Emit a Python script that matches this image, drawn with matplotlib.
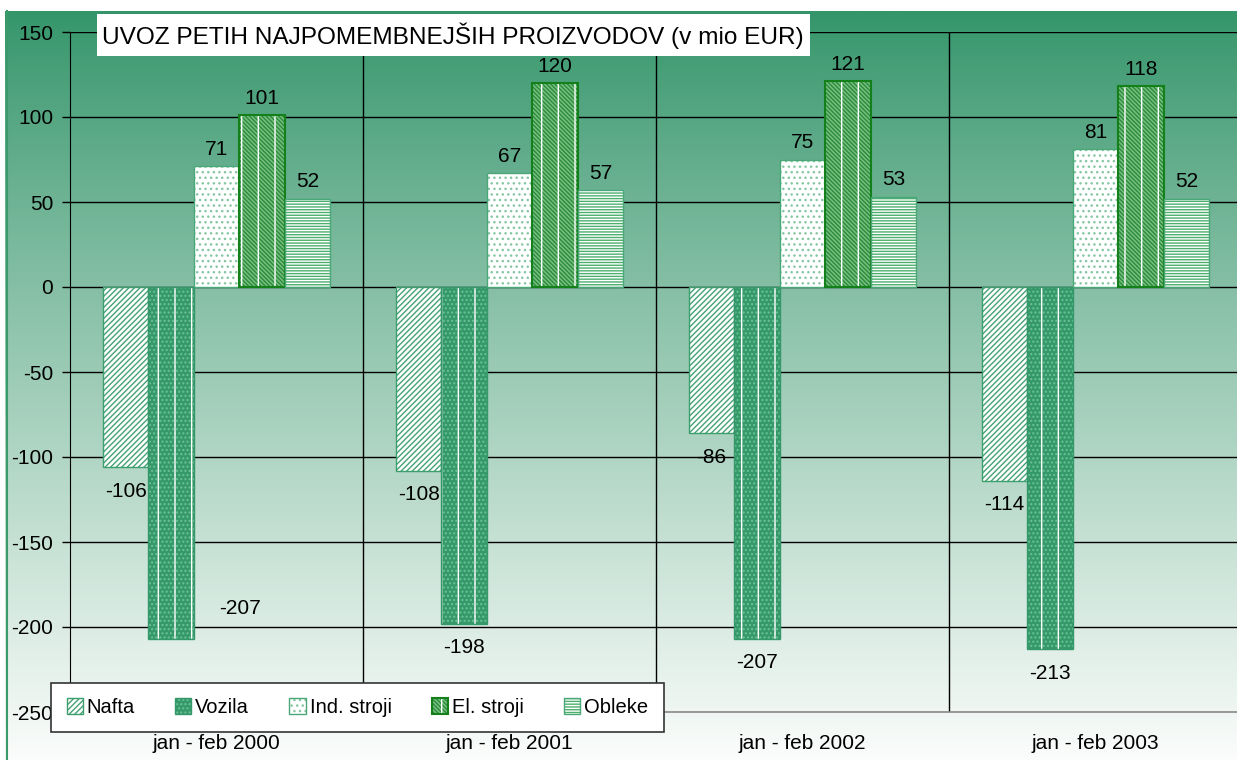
import numpy as np
import matplotlib
matplotlib.use("Agg")
import matplotlib.pyplot as plt
from matplotlib.patches import Rectangle, Patch
from matplotlib.lines import Line2D
from matplotlib.colors import to_rgb

plt.rcParams['font.family'] = ['Liberation Sans', 'DejaVu Sans']
plt.rcParams['hatch.linewidth'] = 1.0

# data
categories = ["jan - feb 2000", "jan - feb 2001", "jan - feb 2002", "jan - feb 2003"]
series = ["Nafta", "Vozila", "Ind. stroji", "El. stroji", "Obleke"]
nafta = [-106, -108, -86, -114]
vozila = [-207, -198, -207, -213]
ind_stroji = [71, 67, 75, 81]
el_stroji = [101, 120, 121, 118]
obleke = [52, 57, 53, 52]
values = [nafta, vozila, ind_stroji, el_stroji, obleke]
yticks = [-250, -200, -150, -100, -50, 0, 50, 100, 150]
title = "UVOZ PETIH NAJPOMEMBNEJŠIH PROIZVODOV (v mio EUR)"

W, H = 1237, 760
fig = plt.figure(figsize=(W / 100, H / 100), dpi=100)
fig.patch.set_facecolor("white")

# chart area background: green to white gradient
bg = fig.add_axes([5 / W, 0, 1 - 5 / W, (H - 11) / H], zorder=0)
top = np.array(to_rgb("#34956a"))
white = np.array([0.985, 0.99, 0.985])
t = np.linspace(0, 1, 400)[:, None] ** 0.9
grad = top * (1 - t) + white * t
bg.imshow(grad[:, None, :], aspect="auto", extent=[0, 1, 0, 1])
bg.axis("off")
fig.add_artist(Line2D([7 / W, 7 / W], [0, (H - 11) / H], color="#3a9a6a", lw=1.5))

ax = fig.add_axes([70 / W, 48 / H, 1172 / W, 680 / H], zorder=1)
ax.patch.set_visible(False)

# styles per series: (face, hatch, hatch colour, edge, extra white '|' layer)
styles = [
    ("white", "//////", "#45a274", "#3d9e6e", False),
    ("#35986a", "....", "#6cc292", "#35986a", True),
    ("white", "...", "#86c7a3", "#4aa878", False),
    ("#78bf80", "\\\\\\\\\\\\\\\\", "#2a8a3a", "#14801a", True),
    ("white", "------", "#4caf6e", "#4aa878", False),
]

x = np.arange(len(categories))
bw = 0.155
handles = []
for i, (name, vals) in enumerate(zip(series, values)):
    face, hatch, hcol, ecol, vlines = styles[i]
    pos = x + (i - 2) * bw
    ax.bar(pos, vals, bw, color=face, hatch=hatch, edgecolor=hcol, linewidth=0, zorder=3)
    parts = [Patch(facecolor=face, hatch=hatch, edgecolor=hcol, linewidth=0)]
    if vlines:
        ax.bar(pos, vals, bw, fill=False, hatch="|", edgecolor="white", linewidth=0, zorder=3)
        parts.append(Patch(fill=False, hatch="|", edgecolor="white", linewidth=0))
    lw = 1.5 if i == 3 else 1.0
    ax.bar(pos, vals, bw, fill=False, edgecolor=ecol, linewidth=lw, zorder=4)
    parts.append(Patch(fill=False, edgecolor=ecol, linewidth=lw))
    handles.append(tuple(parts))

    for j, v in enumerate(vals):
        if v >= 0:
            off = (0, 17)
        elif i == 1 and j == 0:
            off = (69, 30)
        else:
            off = (0, -24)
        ax.annotate(f"{v}", (pos[j], v), xytext=off, textcoords="offset pixels",
                    ha="center", va="center", fontsize=15, zorder=5)

ax.set_xlim(-0.5, 3.5)
ax.set_ylim(-250, 150)
ax.set_yticks(yticks)
ax.set_yticklabels([str(v) for v in yticks], fontsize=15)
ax.set_xticks(x)
ax.set_xticklabels(categories, fontsize=15)
ax.tick_params(axis="x", length=0, pad=16)
ax.tick_params(axis="y", length=6, width=1, pad=6, direction="out")
for yv in yticks[1:]:
    ax.axhline(yv, color="black", lw=1, zorder=1)
for xv in [0.5, 1.5, 2.5]:
    ax.axvline(xv, color="black", lw=1, zorder=1)
for s in ["top", "right"]:
    ax.spines[s].set_visible(False)
ax.spines["left"].set_color("black")
ax.spines["bottom"].set_color("#888888")
ax.spines["bottom"].set_linewidth(1.2)

# title box
fig.add_artist(Rectangle((97 / W, 1 - 56 / H), 713 / W, 42 / H, transform=fig.transFigure,
                         facecolor="white", edgecolor="none", zorder=5))
fig.text(453 / W, 1 - 36 / H, title, ha="center", va="center", fontsize=17.6, zorder=6)

leg = fig.legend(handles, series, loc="center", bbox_to_anchor=(357.5 / W, 1 - 707.5 / H),
                 ncol=5, fontsize=14.5, frameon=True, fancybox=False, framealpha=1,
                 edgecolor="#333333", handlelength=0.8, handleheight=0.8,
                 handletextpad=0.2, columnspacing=2.0, borderpad=0.75)
leg.set_zorder(10)
leg.get_frame().set_linewidth(1.2)

plt.savefig("out.png", dpi=100)
